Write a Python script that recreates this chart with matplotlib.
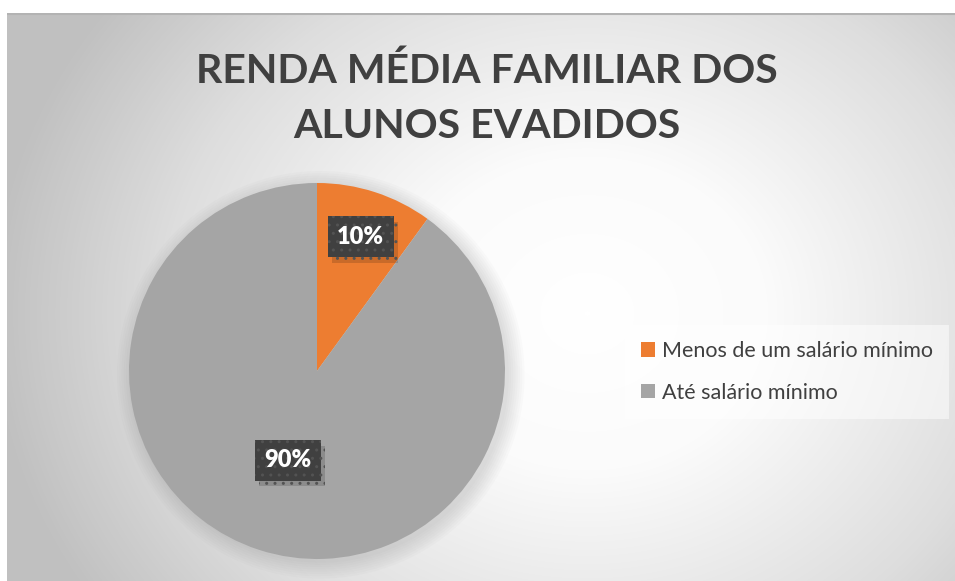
import numpy as np
import matplotlib.pyplot as plt
import matplotlib.patheffects as pe
from matplotlib.colors import LinearSegmentedColormap
from matplotlib.patches import Circle

categorias = ['Menos de um salário mínimo', 'Até salário mínimo']
valores = [10, 90]
rotulos = ['10%', '90%']
cores = ['#ED7D31', '#A5A5A5']
titulo = 'RENDA MÉDIA FAMILIAR DOS\nALUNOS EVADIDOS'

W, H = 955, 581
fig = plt.figure(figsize=(W / 100, H / 100), dpi=100)
fig.patch.set_facecolor('white')

# fundo com gradiente radial (área do gráfico)
x0, y0 = 7, 13
bg = fig.add_axes([x0 / W, 0, (W - x0) / W, (H - y0) / H])
bg.set_axis_off()
yy, xx = np.mgrid[0:H - y0, 0:W - x0]
cx, cy = 580, 300
d = np.hypot(xx - cx, (yy - cy) * 1.15)
d = np.clip(d / 600, 0, 1)
cmap = LinearSegmentedColormap.from_list('g', [(0, '#ffffff'), (0.3, '#fbfbfb'),
                                               (0.7, '#dedede'), (1, '#c0c0c0')])
bg.imshow(d, cmap=cmap, vmin=0, vmax=1, aspect='auto', interpolation='bilinear')
bg.axhline(0, color='#b3b3b3', lw=1.5)

# pizza
r_px = 188
ax = fig.add_axes([(317 - r_px) / W, (H - 371 - r_px) / H, 2 * r_px / W, 2 * r_px / H])
ax.set_axis_off()

# sombra suave
for k in range(8):
    ax.add_patch(Circle((0.02, -0.02), 1 + 0.012 * k, fc='#808080', ec='none',
                        alpha=0.03, clip_on=False))

wedges, _ = ax.pie(valores, startangle=90, counterclock=False, radius=1,
                   colors=cores, wedgeprops=dict(edgecolor='none'))
ax.set_xlim(-1, 1)
ax.set_ylim(-1, 1)

dist = [0.75, 0.50]
for w, rot, dd in zip(wedges, rotulos, dist):
    ang = np.deg2rad((w.theta1 + w.theta2) / 2)
    px, py = dd * np.cos(ang), dd * np.sin(ang)
    t = ax.text(px, py, rot, ha='center', va='center', fontsize=17,
                fontweight='heavy', family='Lato', color='white',
                bbox=dict(boxstyle='square,pad=0.4', fc='#404040', ec='#535353',
                          lw=0, hatch='..'))
    t.get_bbox_patch().set_path_effects(
        [pe.SimplePatchShadow(offset=(3, -4), shadow_rgbFace='black', alpha=0.15),
         pe.Normal()])

# título
fig.text(487 / W, 1 - 99 / H, titulo, ha='center', va='center', fontsize=29.5,
         fontweight='bold', family='Lato', color='#404040', linespacing=1.6)

# legenda
leg = fig.legend(wedges, categorias, loc='center left',
                 bbox_to_anchor=(625 / W, 1 - 372 / H), frameon=True,
                 handlelength=0.65, handleheight=0.65,
                 handletextpad=0.3, labelspacing=1.0, borderpad=0.75,
                 borderaxespad=0, prop=dict(family='Lato', size=15.5))
leg.get_frame().set_facecolor('white')
leg.get_frame().set_alpha(0.5)
leg.get_frame().set_edgecolor('none')
leg.get_frame().set_boxstyle('square', pad=0)
for t in leg.get_texts():
    t.set_color('#404040')

fig.savefig('out.png', dpi=100)
